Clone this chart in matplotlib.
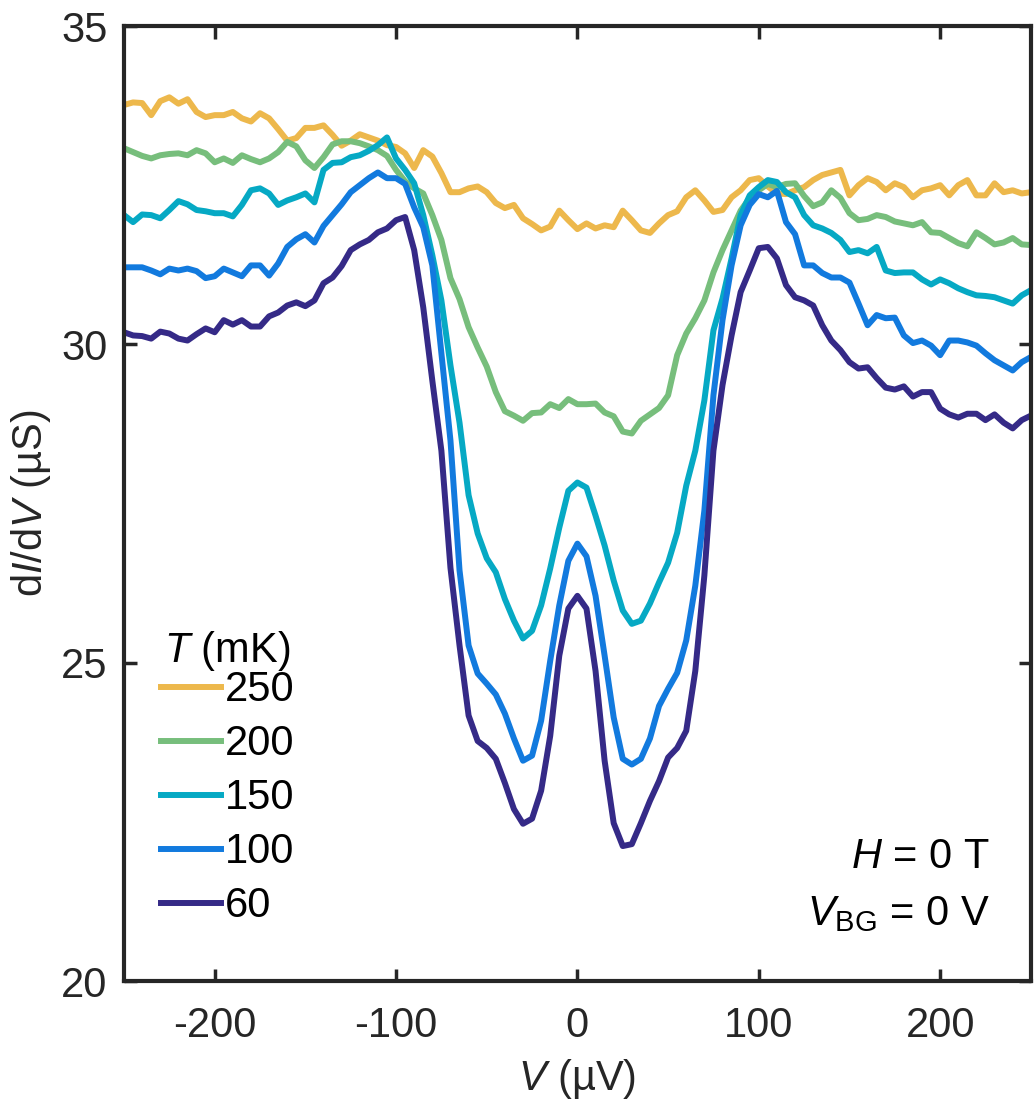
import numpy as np
import matplotlib
matplotlib.use("Agg")
import matplotlib.pyplot as plt

plt.rcParams["font.family"] = ["Liberation Sans", "DejaVu Sans"]
plt.rcParams["mathtext.fontset"] = "custom"
plt.rcParams["mathtext.rm"] = "Liberation Sans"
plt.rcParams["mathtext.it"] = "Liberation Sans:italic"
plt.rcParams["axes.unicode_minus"] = False

# bias voltage (uV), 5 uV steps
bias = np.arange(-250, 251, 5)

g_250 = [33.76, 33.80, 33.79, 33.60, 33.82, 33.88, 33.78, 33.85, 33.65, 33.57,
         33.60, 33.60, 33.65, 33.55, 33.50, 33.63, 33.55, 33.38, 33.20, 33.24,
         33.40, 33.40, 33.44, 33.29, 33.12, 33.20, 33.30, 33.25, 33.20, 33.13,
         33.10, 33.00, 32.77, 33.05, 32.95, 32.69, 32.39, 32.39, 32.45, 32.48,
         32.39, 32.22, 32.14, 32.19, 31.98, 31.89, 31.79, 31.85, 32.10, 31.95,
         31.81, 31.90, 31.82, 31.87, 31.84, 32.10, 31.95, 31.79, 31.75, 31.90,
         32.03, 32.09, 32.31, 32.42, 32.26, 32.08, 32.11, 32.31, 32.42, 32.58,
         32.61, 32.48, 32.37, 32.36, 32.42, 32.47, 32.58, 32.66, 32.70, 32.74,
         32.34, 32.50, 32.61, 32.55, 32.42, 32.53, 32.47, 32.31, 32.42, 32.45,
         32.50, 32.34, 32.50, 32.58, 32.34, 32.34, 32.53, 32.39, 32.42, 32.37,
         32.39]

g_200 = [33.08, 33.02, 32.96, 32.92, 32.97, 32.99, 33.00, 32.97, 33.05, 33.00,
         32.86, 32.92, 32.85, 32.97, 32.91, 32.86, 32.92, 33.02, 33.18, 33.11,
         32.89, 32.77, 32.94, 33.14, 33.19, 33.19, 33.16, 33.11, 33.05, 32.96,
         32.74, 32.56, 32.45, 32.37, 32.03, 31.64, 31.04, 30.71, 30.27, 29.95,
         29.65, 29.25, 28.95, 28.88, 28.80, 28.92, 28.93, 29.06, 29.00, 29.14,
         29.06, 29.06, 29.07, 28.93, 28.87, 28.63, 28.60, 28.80, 28.90, 29.00,
         29.20, 29.83, 30.17, 30.41, 30.69, 31.13, 31.48, 31.79, 32.10, 32.30,
         32.42, 32.52, 32.47, 32.52, 32.53, 32.33, 32.17, 32.23, 32.42, 32.30,
         32.06, 31.95, 31.97, 32.03, 32.00, 31.93, 31.90, 31.87, 31.92, 31.76,
         31.75, 31.67, 31.59, 31.54, 31.76, 31.67, 31.57, 31.60, 31.67, 31.57,
         31.56]

g_150 = [32.03, 31.92, 32.04, 32.03, 31.98, 32.11, 32.25, 32.20, 32.11, 32.09,
         32.06, 32.06, 32.01, 32.19, 32.42, 32.45, 32.37, 32.19, 32.26, 32.31,
         32.37, 32.23, 32.74, 32.85, 32.86, 32.94, 32.97, 33.04, 33.13, 33.25,
         32.92, 32.74, 32.53, 32.03, 31.40, 30.69, 29.67, 28.77, 27.63, 27.03,
         26.64, 26.42, 26.00, 25.66, 25.38, 25.50, 25.90, 26.48, 27.12, 27.70,
         27.83, 27.75, 27.31, 26.84, 26.29, 25.82, 25.61, 25.66, 25.93, 26.26,
         26.57, 27.04, 27.78, 28.33, 29.12, 30.22, 30.72, 31.35, 32.03, 32.34,
         32.47, 32.58, 32.55, 32.39, 32.31, 32.03, 31.87, 31.82, 31.75, 31.64,
         31.45, 31.48, 31.43, 31.53, 31.16, 31.12, 31.13, 31.13, 31.02, 30.94,
         31.02, 30.96, 30.88, 30.82, 30.77, 30.76, 30.74, 30.69, 30.64, 30.77,
         30.85]

g_100 = [31.21, 31.21, 31.21, 31.16, 31.10, 31.19, 31.16, 31.19, 31.15, 31.04,
         31.07, 31.19, 31.13, 31.07, 31.24, 31.24, 31.08, 31.27, 31.53, 31.65,
         31.73, 31.60, 31.86, 32.03, 32.20, 32.39, 32.50, 32.61, 32.70, 32.61,
         32.61, 32.52, 32.15, 31.84, 31.24, 29.86, 28.49, 26.45, 25.27, 24.83,
         24.67, 24.50, 24.20, 23.81, 23.46, 23.54, 24.09, 25.03, 25.90, 26.60,
         26.87, 26.67, 26.05, 25.11, 24.14, 23.49, 23.40, 23.49, 23.81, 24.32,
         24.59, 24.84, 25.35, 26.21, 27.39, 29.20, 30.38, 31.24, 31.87, 32.19,
         32.36, 32.31, 32.41, 31.92, 31.73, 31.24, 31.24, 31.12, 31.05, 31.05,
         30.97, 30.64, 30.30, 30.46, 30.41, 30.42, 30.14, 30.02, 30.06, 29.98,
         29.83, 30.06, 30.06, 30.03, 29.98, 29.86, 29.75, 29.67, 29.59, 29.72,
         29.80]

g_60 = [30.19, 30.14, 30.13, 30.09, 30.20, 30.17, 30.09, 30.06, 30.16, 30.25,
        30.19, 30.38, 30.31, 30.38, 30.28, 30.28, 30.44, 30.50, 30.61, 30.66,
        30.60, 30.69, 30.96, 31.05, 31.23, 31.48, 31.57, 31.64, 31.76, 31.82,
        31.95, 32.00, 31.48, 30.58, 29.43, 28.33, 26.49, 25.27, 24.17, 23.77,
        23.66, 23.49, 23.11, 22.70, 22.47, 22.55, 22.99, 23.85, 25.11, 25.85,
        26.05, 25.85, 24.87, 23.46, 22.48, 22.12, 22.15, 22.48, 22.83, 23.14,
        23.51, 23.66, 23.93, 24.87, 26.37, 28.33, 29.36, 30.14, 30.82, 31.16,
        31.51, 31.53, 31.35, 30.93, 30.74, 30.69, 30.61, 30.30, 30.06, 29.91,
        29.72, 29.62, 29.64, 29.47, 29.32, 29.29, 29.34, 29.18, 29.25, 29.25,
        28.99, 28.90, 28.85, 28.91, 28.91, 28.81, 28.90, 28.77, 28.68, 28.81,
        28.88]

temps = ["250", "200", "150", "100", "60"]
curves = [g_250, g_200, g_150, g_100, g_60]
colors = ["#EDB84C", "#77BE7C", "#06A9C4", "#127ADE", "#352A87"]

dark = "#262626"
fs = 30

fig = plt.figure(figsize=(10.36, 11.07), dpi=100)
ax = fig.add_axes([0.1197, 0.1138, 0.8753, 0.8627])

for t, g, c in zip(temps, curves, colors):
    ax.plot(bias, g, color=c, lw=4.3, label=t, solid_joinstyle="round")

ax.set_xlim(-250, 250)
ax.set_ylim(20, 35)
ax.set_xticks([-200, -100, 0, 100, 200])
ax.set_yticks([20, 25, 30, 35])
ax.tick_params(direction="in", length=9, width=2.5, top=True, right=True,
               labelsize=fs, colors=dark)
ax.tick_params(axis="x", pad=18)
ax.tick_params(axis="y", pad=12)
for s in ax.spines.values():
    s.set_linewidth(3)
    s.set_color(dark)

ax.set_xlabel(r"$V$ (µV)", fontsize=fs, color=dark, labelpad=8)
ax.set_ylabel(r"d$I$/d$V$ (µS)", fontsize=fs, color=dark, labelpad=6)

# legend title drawn separately so its gap to the entries matches
ax.text(0.044, 0.346, r"$T$ (mK)", transform=ax.transAxes, ha="left",
        va="center", fontsize=fs, color="black")
leg = ax.legend(loc="lower left", bbox_to_anchor=(0.022, 0.04),
                frameon=False, fontsize=fs,
                handlelength=1.45, handletextpad=0.08, labelspacing=0.335,
                borderaxespad=0)

ax.text(0.955, 0.13, r"$H$ = 0 T", transform=ax.transAxes, ha="right",
        va="center", fontsize=fs, color="black")
ax.text(0.955, 0.07, r"$V_{\mathrm{BG}}$ = 0 V", transform=ax.transAxes,
        ha="right", va="center", fontsize=fs, color="black")

fig.savefig("out.png", dpi=100)
